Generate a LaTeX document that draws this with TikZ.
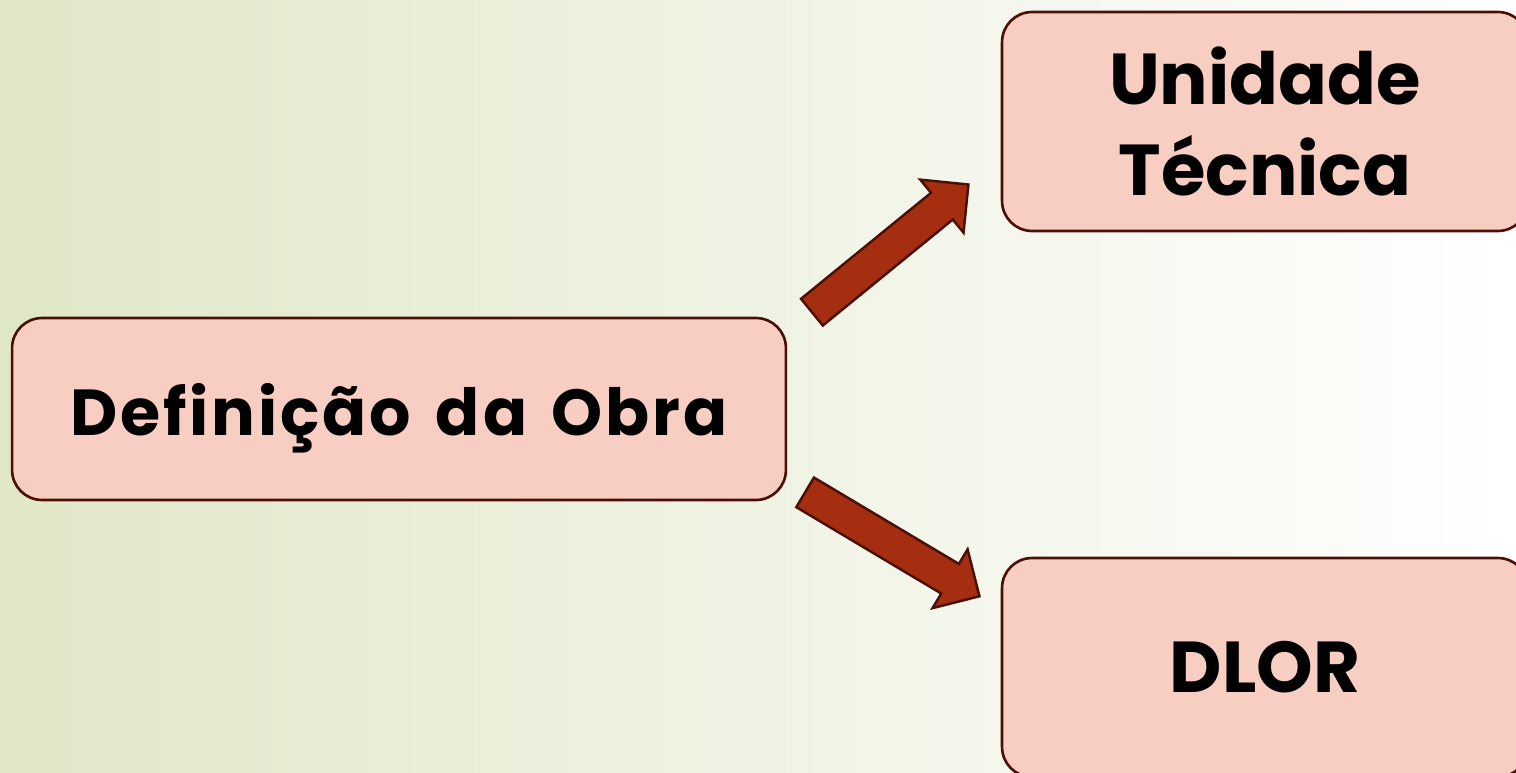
\documentclass[tikz,border=0pt]{standalone}
\usepackage{fontspec}
\setmainfont{Poppins}
\usetikzlibrary{shapes.arrows}

\definecolor{boxfill}{HTML}{F9CEC2}
\definecolor{boxline}{HTML}{4A1008}
\definecolor{arrowfill}{HTML}{A52E10}
\definecolor{arrowline}{HTML}{4A0F05}
\definecolor{bgleft}{HTML}{E0E7C8}

\tikzset{
  stagebox/.style={draw=boxline,line width=1.5pt,fill=boxfill,rounded corners=0.6cm,
    align=center,font=\bfseries,text=black},
  bigarrow/.style={single arrow,draw=arrowline,line width=1.4pt,fill=arrowfill,
    inner xsep=0pt,inner ysep=0.32cm,single arrow head extend=0.34cm}
}

\begin{document}
\begin{tikzpicture}[x=0.02cm,y=-0.02cm]
% Background
\useasboundingbox (0,0) rectangle (1516,773);
\clip (0,0) rectangle (1516,773);
\shade[left color=bgleft,right color=white] (0,0) rectangle (1516,773);

% Definition
\node[stagebox,minimum width=15.48cm,minimum height=3.64cm,text depth=0pt,
  font=\bfseries\fontsize{37}{44}\selectfont\addfontfeature{LetterSpace=4.5}]
  (obra) at (399,409) {Definição\hspace{0.38em}da\hspace{0.38em}Obra};

% Technical unit
\node[stagebox,minimum width=10.52cm,minimum height=4.38cm,
  font=\bfseries\fontsize{41}{52}\selectfont] (unidade) at (1265,121.5) {Unidade\\Técnica};

% DLOR
\node[stagebox,minimum width=10.52cm,minimum height=4.38cm,
  font=\bfseries\fontsize{41}{52}\selectfont] (dlor) at (1265,667.5) {DLOR};

% Arrows
\node[bigarrow,minimum height=4.04cm,rotate=39.2] (up) at (883.5,253.8) {};
\node[bigarrow,minimum height=4.06cm,rotate=-30.8] (down) at (884.9,539.9) {};
\end{tikzpicture}
\end{document}
